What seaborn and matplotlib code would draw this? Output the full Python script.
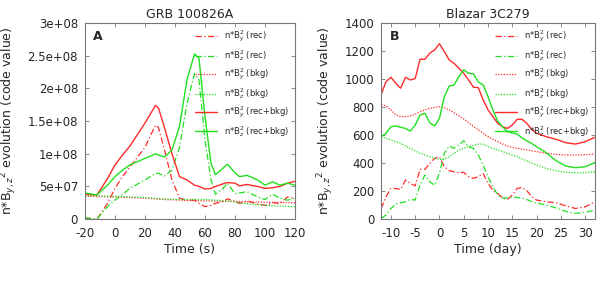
import numpy as np
import pandas as pd
import matplotlib
matplotlib.use("Agg")
import matplotlib.pyplot as plt
import seaborn as sns

# ---- GRB 100826A (panel A), values in units of 1e8 ----
t_grb = [-20, -12, -5, 0, 5, 10, 20, 27, 29, 33, 38, 43, 48, 53, 56, 60, 64, 67,
         72, 75, 80, 83, 88, 95, 100, 105, 110, 115, 120]
grb_by_rec = [0.02, 0.0, 0.24, 0.47, 0.65, 0.80, 1.10, 1.44, 1.40, 1.06, 0.60, 0.32, 0.29,
              0.29, 0.24, 0.19, 0.21, 0.24, 0.27, 0.31, 0.27, 0.24, 0.28, 0.23, 0.21,
              0.25, 0.24, 0.34, 0.32]
grb_bz_rec = [0.02, 0.0, 0.19, 0.29, 0.38, 0.47, 0.60, 0.70, 0.70, 0.66, 0.75, 1.10, 1.77,
              2.23, 2.13, 1.21, 0.60, 0.38, 0.47, 0.55, 0.39, 0.40, 0.42, 0.34, 0.30,
              0.38, 0.32, 0.29, 0.32]
grb_by_bkg = [0.35, 0.345, 0.342, 0.34, 0.335, 0.33, 0.32, 0.31, 0.305, 0.30, 0.295, 0.29,
              0.285, 0.283, 0.282, 0.28, 0.278, 0.276, 0.273, 0.272, 0.27, 0.268, 0.265,
              0.262, 0.26, 0.257, 0.255, 0.252, 0.25]
grb_bz_bkg = [0.36, 0.357, 0.352, 0.35, 0.345, 0.34, 0.33, 0.32, 0.315, 0.31, 0.305, 0.30,
              0.30, 0.30, 0.30, 0.30, 0.295, 0.29, 0.285, 0.28, 0.26, 0.25, 0.235, 0.22,
              0.21, 0.205, 0.20, 0.195, 0.19]
grb_by_tot = [0.38, 0.37, 0.62, 0.83, 0.98, 1.12, 1.47, 1.74, 1.70, 1.40, 1.00, 0.65, 0.60,
              0.52, 0.50, 0.46, 0.47, 0.50, 0.54, 0.56, 0.55, 0.51, 0.53, 0.50, 0.47,
              0.48, 0.50, 0.55, 0.58]
grb_bz_tot = [0.40, 0.37, 0.52, 0.65, 0.75, 0.83, 0.93, 1.00, 0.98, 0.95, 1.06, 1.42, 2.13,
              2.53, 2.46, 1.57, 0.85, 0.68, 0.78, 0.84, 0.71, 0.65, 0.67, 0.60, 0.52,
              0.57, 0.52, 0.55, 0.52]

# ---- Blazar 3C279 (panel B) ----
t_blz = [-12, -11, -10, -9, -8, -7, -6, -5, -4, -3, -2, -1, 0, 1, 2, 3, 4, 5, 6, 7,
         8, 9, 10, 11, 12, 13, 14, 15, 16, 17, 18, 19, 20, 22, 24, 26, 28, 30, 32]
blz_by_rec = [76, 160, 219, 219, 212, 279, 255, 238, 355, 355, 398, 434, 445, 374, 346,
              338, 331, 334, 303, 291, 303, 325, 255, 207, 184, 150, 140, 172, 219, 226,
              203, 160, 136, 124, 117, 95, 76, 88, 124]
blz_bz_rec = [5, 29, 76, 107, 117, 124, 141, 136, 243, 315, 267, 243, 327, 470, 522, 505,
              529, 560, 517, 505, 458, 386, 303, 231, 172, 150, 150, 160, 155, 150, 140,
              125, 115, 100, 80, 55, 41, 48, 64]
blz_by_bkg = [820, 808, 780, 744, 732, 732, 737, 750, 768, 780, 791, 798, 803, 795, 780,
              760, 737, 715, 689, 663, 637, 613, 589, 570, 553, 537, 522, 512, 505, 500,
              494, 488, 482, 470, 463, 458, 458, 460, 465]
blz_bz_bkg = [589, 577, 565, 553, 541, 523, 505, 487, 470, 458, 446, 436, 427, 427, 446,
              470, 494, 506, 517, 527, 536, 536, 517, 506, 494, 482, 470, 458, 446, 430,
              415, 400, 386, 362, 346, 334, 331, 331, 338]
blz_by_tot = [892, 982, 1013, 970, 935, 1013, 994, 1004, 1142, 1142, 1185, 1209, 1252,
              1197, 1137, 1113, 1078, 1042, 994, 942, 939, 851, 780, 732, 684, 660, 648,
              672, 713, 713, 684, 641, 613, 589, 570, 546, 536, 553, 584]
blz_bz_tot = [589, 613, 660, 665, 656, 648, 629, 672, 744, 756, 689, 665, 720, 875, 951,
              958, 1018, 1066, 1042, 1037, 980, 958, 875, 780, 700, 660, 625, 615, 608,
              580, 560, 540, 517, 474, 417, 379, 367, 374, 403]

labels = [r"n*B$_y^2$ (rec)", r"n*B$_z^2$ (rec)", r"n*B$_y^2$ (bkg)",
          r"n*B$_z^2$ (bkg)", r"n*B$_y^2$ (rec+bkg)", r"n*B$_z^2$ (rec+bkg)"]
RED = "#ff2a2a"
GREEN = "#1fe01f"
styles = [(RED, (0, (5, 2, 1, 2)), 0.9), (GREEN, (0, (5, 2, 1, 2)), 0.9),
          (RED, (0, (1, 1.2)), 0.9), (GREEN, (0, (1, 1.2)), 0.9),
          (RED, "-", 1.0), (GREEN, "-", 1.0)]

sns.set_style("ticks")
plt.rcParams["font.family"] = ["DejaVu Sans"]
plt.rcParams["axes.unicode_minus"] = False

fig = plt.figure(figsize=(6.07, 2.82), dpi=100)
axA = fig.add_axes([0.140, 0.223, 0.346, 0.695])
axB = fig.add_axes([0.628, 0.223, 0.352, 0.695])


def draw(ax, t, series, scale):
    for y, lab, (c, ls, lw) in zip(series, labels, styles):
        df = pd.DataFrame({"t": t, "v": np.array(y) * scale})
        sns.lineplot(data=df, x="t", y="v", ax=ax, color=c, linestyle=ls,
                     linewidth=lw, label=lab)


draw(axA, t_grb, [grb_by_rec, grb_bz_rec, grb_by_bkg, grb_bz_bkg, grb_by_tot, grb_bz_tot], 1e8)
draw(axB, t_blz, [blz_by_rec, blz_bz_rec, blz_by_bkg, blz_bz_bkg, blz_by_tot, blz_bz_tot], 1)

axA.set_xlim(-20, 120)
axA.set_ylim(0, 3e8)
axA.set_xticks(range(-20, 121, 20))
axA.set_yticks(np.arange(0, 3.01e8, 0.5e8))
axA.yaxis.set_major_formatter(plt.FuncFormatter(lambda v, p: "%g" % v))
axA.set_title("GRB 100826A", fontsize=9, pad=4)
axA.set_xlabel("Time (s)", fontsize=9, labelpad=2)

axB.set_xlim(-12, 32)
axB.set_ylim(0, 1400)
axB.set_xticks(range(-10, 31, 5))
axB.set_yticks(range(0, 1401, 200))
axB.set_title("Blazar 3C279", fontsize=9, pad=4)
axB.set_xlabel("Time (day)", fontsize=9, labelpad=2)

for ax, tag in [(axA, "A"), (axB, "B")]:
    ax.set_ylabel(r"n*B$_{y,z}$$^2$ evolution (code value)", fontsize=9, labelpad=6)
    ax.tick_params(direction="in", top=True, right=True, labelsize=8.5,
                   length=3, width=0.6, color="#777777")
    ax.tick_params(axis="x", pad=6)
    ax.tick_params(axis="y", pad=5)
    for s in ax.spines.values():
        s.set_color("#777777")
        s.set_linewidth(0.8)
    ax.text(0.04, 0.93, tag, transform=ax.transAxes, fontsize=9,
            fontweight="bold", va="center")
    ax.legend(loc="upper right", frameon=False, fontsize=6, handlelength=2.6,
              labelspacing=0.45, borderaxespad=0.3, handletextpad=0.8)

fig.savefig("out.png", dpi=100)
